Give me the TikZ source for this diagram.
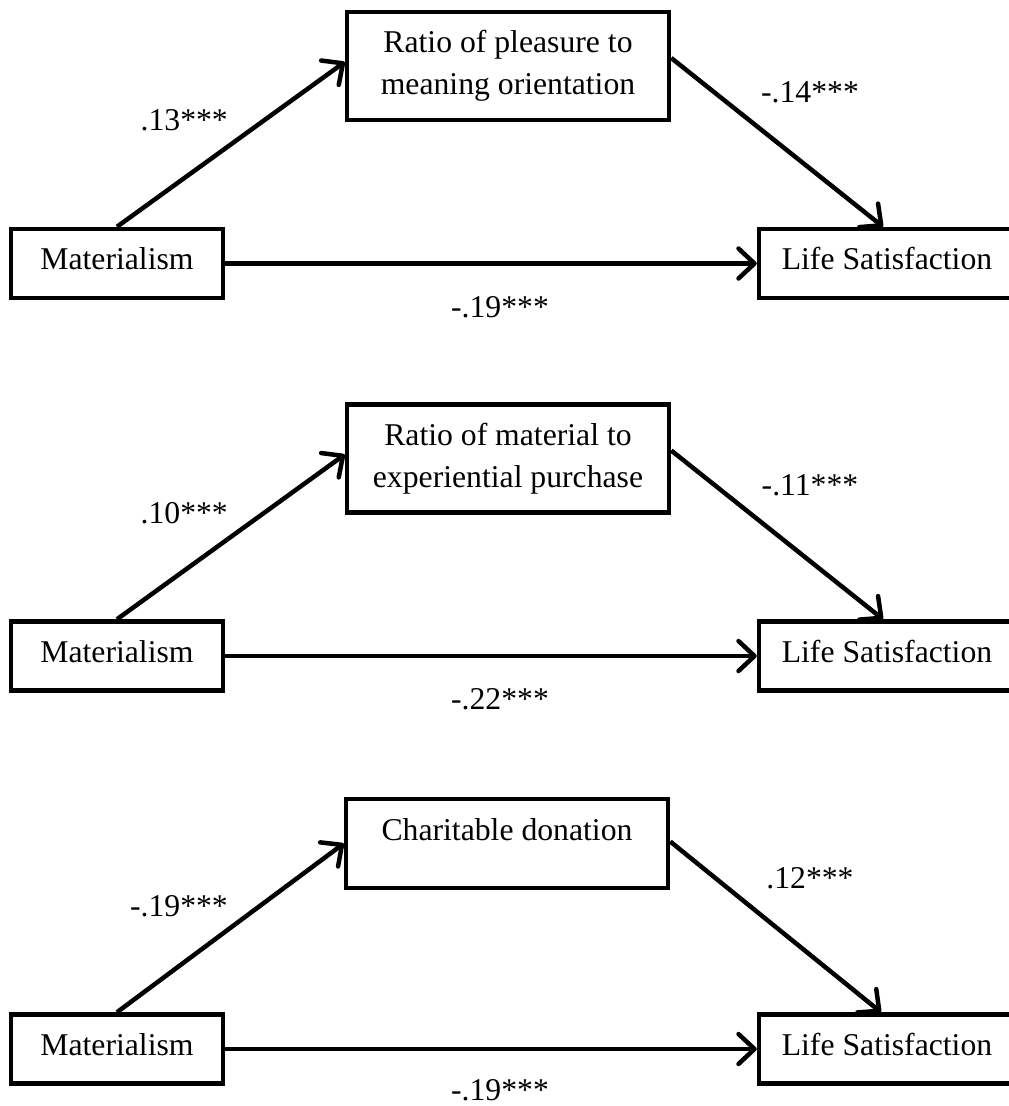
\documentclass[tikz,border=0pt]{standalone}
\usepackage{fontspec}
\setmainfont{Liberation Serif}
\usetikzlibrary{arrows.meta}
\begin{document}
\begin{tikzpicture}[x=1pt,y=-1pt,
  txt/.style={font=\fontsize{31.7}{42}\selectfont},
  box/.style={txt, draw, line width=4.5pt, inner sep=0pt, align=center},
  onebox/.style={box, text height=21.6pt, text depth=9pt, minimum width=212pt, minimum height=69pt},
  lifebox/.style={box, text height=21.6pt, text depth=9pt, minimum width=256pt, minimum height=69pt},
  medbox/.style={box, minimum width=322pt, minimum height=108pt},
  lbl/.style={txt, inner sep=0pt},
  arr/.style={line width=4.5pt, -{Straight Barb[length=16pt,width=30pt,round]}},
]
\useasboundingbox (0,0) rectangle (1009,1106);

% ---------- Panel 1 ----------
\node[onebox]  (m1) at (117,263.5) {Materialism};
\node[medbox]  (r1) at (508,66) {Ratio of pleasure to\\meaning orientation};
\node[lifebox] (l1) at (887,263.5) {Life Satisfaction};
\draw[arr] (m1.north) -- ([yshift=4pt]r1.west);
\draw[arr] ([yshift=8pt]r1.east) -- ([xshift=-4pt]l1.north);
\draw[arr] (m1.east) -- (l1.west);
\node[lbl, anchor=base east] (a1) at (228,130) {.13***};
\node[lbl, anchor=base] (b1) at (810,102) {-.14***};
\node[lbl, anchor=base] (c1) at (500,317) {-.19***};

% ---------- Panel 2 ----------
\node[onebox]  (m2) at (117,656) {Materialism};
\node[medbox]  (r2) at (508,458.5) {Ratio of material to\\experiential purchase};
\node[lifebox] (l2) at (887,656) {Life Satisfaction};
\draw[arr] (m2.north) -- ([yshift=4pt]r2.west);
\draw[arr] ([yshift=8pt]r2.east) -- ([xshift=-4pt]l2.north);
\draw[arr] (m2.east) -- (l2.west);
\node[lbl, anchor=base east] (a2) at (228,523) {.10***};
\node[lbl, anchor=base] (b2) at (810,495) {-.11***};
\node[lbl, anchor=base] (c2) at (500,709) {-.22***};

% ---------- Panel 3 ----------
\node[onebox]  (m3) at (117,1049) {Materialism};
\node[box, minimum width=322pt, minimum height=89pt, text height=21.6pt, text depth=28.6pt] (r3) at (507,843.5) {Charitable donation};
\node[lifebox] (l3) at (887,1049) {Life Satisfaction};
\draw[arr] (m3.north) -- (r3.west);
\draw[arr] ([yshift=2pt]r3.east) -- ([xshift=-6pt]l3.north);
\draw[arr] (m3.east) -- (l3.west);
\node[lbl, anchor=base east] (a3) at (228,916) {-.19***};
\node[lbl, anchor=base] (b3) at (810,888) {.12***};
\node[lbl, anchor=base] (c3) at (500,1100) {-.19***};
\end{tikzpicture}
\end{document}
